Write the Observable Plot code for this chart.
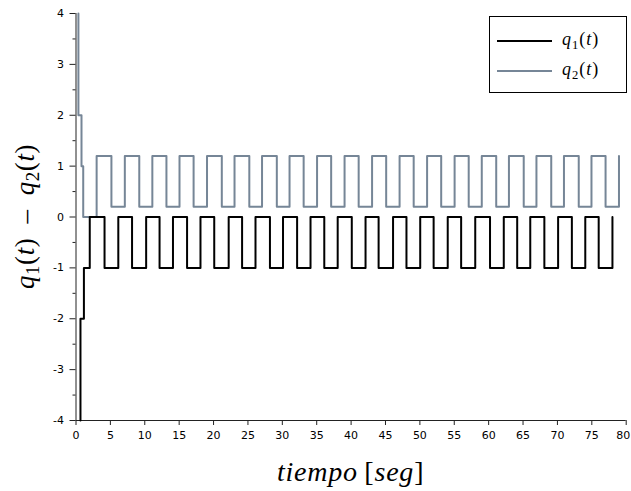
<!DOCTYPE html>
<html>
<head>
<meta charset="utf-8">
<script src="https://cdn.jsdelivr.net/npm/d3@7"></script>
<script src="https://cdn.jsdelivr.net/npm/@observablehq/plot@0.6"></script>
<style>
  body { margin: 0; background: #fff; }
</style>
</head>
<body>
<div id="chart"></div>
<script>
// q1(t): step signal, times at which the value changes and the new value
const q1Time = [0.65, 0.65, 1.15, 2.0,
  4.15, 6.15, 8.15, 10.2, 12.15, 14.1, 16.15, 18.1, 20.1, 22.2, 24.15, 26.1,
  28.2, 30.1, 32.15, 34.1, 36.1, 38.05, 40.1, 42.1, 44.0, 46.1, 48.05, 50.05,
  52.0, 54.05, 56.0, 58.05, 60.2, 62.2, 64.15, 66.05, 68.1, 70.1, 72.1, 74.05,
  76.0, 78.0];
const q1Value = [-4, -2, -1, 0,
  -1, 0, -1, 0, -1, 0, -1, 0, -1, 0, -1, 0,
  -1, 0, -1, 0, -1, 0, -1, 0, -1, 0, -1, 0,
  -1, 0, -1, 0, -1, 0, -1, 0, -1, 0, -1, 0,
  -1, 0];

// q2(t): step signal, times at which the value changes and the new value
const q2Time = [0.35, 0.35, 0.8, 1.05,
  3.0, 5.15, 7.1, 9.2, 11.1, 13.15, 15.05, 17.1, 19.05, 21.2, 23.05, 25.2,
  27.05, 29.2, 31.05, 33.1, 35.05, 37.1, 39.05, 41.1, 43.05, 45.1, 47.05, 49.1,
  51.05, 53.1, 55.05, 57.1, 59.0, 61.1, 62.95, 65.1, 66.95, 69.1, 70.95, 73.1,
  74.95, 77.0, 78.95];
const q2Value = [4, 2, 1, 0,
  1.2, 0.2, 1.2, 0.2, 1.2, 0.2, 1.2, 0.2, 1.2, 0.2, 1.2, 0.2,
  1.2, 0.2, 1.2, 0.2, 1.2, 0.2, 1.2, 0.2, 1.2, 0.2, 1.2, 0.2,
  1.2, 0.2, 1.2, 0.2, 1.2, 0.2, 1.2, 0.2, 1.2, 0.2, 1.2, 0.2,
  1.2, 0.2, 1.2];

const xTicks = [0, 5, 10, 15, 20, 25, 30, 35, 40, 45, 50, 55, 60, 65, 70, 75, 80];
const yTicks = [-4, -3, -2, -1, 0, 1, 2, 3, 4];
const yMinorTicks = [-3.5, -2.5, -1.5, -0.5, 0.5, 1.5, 2.5, 3.5];

const seriesNames = ["q1", "q2"];
const seriesColors = ["#000000", "#768697"];

const q1 = q1Time.map((t, i) => ({t, v: q1Value[i]}));
const q2 = q2Time.map((t, i) => ({t, v: q2Value[i]}));

const W = 631, H = 491;
const margin = {top: 13, right: 5.3, bottom: 71, left: 75.5};

// last x label sits at the right edge; nudge it inward so it stays whole
const xLast = xTicks[xTicks.length - 1];

const chart = Plot.plot({
  width: W,
  height: H,
  marginTop: margin.top,
  marginRight: margin.right,
  marginBottom: margin.bottom,
  marginLeft: margin.left,
  style: {fontFamily: "DejaVu Sans", fontSize: "11px", color: "#000", background: "#fff", overflow: "visible"},
  x: {domain: [0, 80]},
  y: {domain: [-4, 4]},
  marks: [
    Plot.axisX({ticks: xTicks, tickSize: 5, text: null, label: null, stroke: "#222"}),
    Plot.axisX({ticks: xTicks.filter(d => d !== xLast), tickSize: 5, tickPadding: 6, tickFormat: d => String(d), label: null, stroke: "none"}),
    Plot.axisX({ticks: [xLast], tickSize: 5, tickPadding: 6, dx: -3, tickFormat: d => String(d), label: null, stroke: "none"}),
    Plot.axisY({ticks: yTicks, tickSize: 6, tickPadding: 6, tickFormat: d => String(d), label: null, stroke: "#222"}),
    Plot.axisY({ticks: yMinorTicks, tickSize: 3, text: null, label: null, stroke: "#222"}),
    Plot.ruleX([0], {stroke: "#222", strokeWidth: 1}),
    Plot.ruleY([-4], {stroke: "#222", strokeWidth: 1}),
    Plot.line(q2, {x: "t", y: "v", curve: "step-after", stroke: seriesColors[1], strokeWidth: 2}),
    Plot.line(q1, {x: "t", y: "v", curve: "step-after", stroke: seriesColors[0], strokeWidth: 2})
  ]
});

document.getElementById("chart").appendChild(chart);

const svg = d3.select(chart);
const serif = "'Liberation Serif', 'DejaVu Serif', serif";

// math-style label: italic symbol with subscript, followed by (t)
function mathTerm(text, sym, sub, size) {
  text.append("tspan").attr("font-style", "italic").text(sym);
  text.append("tspan").attr("font-size", size * 0.7).attr("dy", size * 0.2).text(sub);
  text.append("tspan").attr("dy", -size * 0.2).text("(");
  text.append("tspan").attr("font-style", "italic").text("t");
  text.append("tspan").text(")");
}

// y axis title
const yl = svg.append("text")
  .attr("transform", `translate(34,${(margin.top + H - margin.bottom) / 2}) rotate(-90)`)
  .attr("text-anchor", "middle")
  .attr("font-family", serif)
  .attr("font-size", 27)
  .attr("letter-spacing", 0.6)
  .attr("fill", "#000");
mathTerm(yl, "q", "1", 27);
yl.append("tspan").text("\u2002\u2013\u2002");
mathTerm(yl, "q", "2", 27);

// x axis title
const xl = svg.append("text")
  .attr("x", (margin.left + W - margin.right) / 2)
  .attr("y", 481)
  .attr("text-anchor", "middle")
  .attr("font-family", serif)
  .attr("font-size", 28)
  .attr("letter-spacing", 0.8)
  .attr("fill", "#000");
xl.append("tspan").attr("font-style", "italic").text("tiempo");
xl.append("tspan").text("\u2009[");
xl.append("tspan").attr("font-style", "italic").text("seg");
xl.append("tspan").text("]");

// legend
const lg = svg.append("g").attr("text-anchor", "start");
lg.append("rect")
  .attr("x", 489.5).attr("y", 16.5).attr("width", 137).attr("height", 76)
  .attr("fill", "#fff").attr("stroke", "#000").attr("stroke-width", 1);
seriesNames.forEach((name, i) => {
  const y = 41 + i * 30;
  lg.append("line")
    .attr("x1", 497).attr("x2", 552).attr("y1", y).attr("y2", y)
    .attr("stroke", seriesColors[i]).attr("stroke-width", 2);
  const t = lg.append("text")
    .attr("x", 562).attr("y", y + 4)
    .attr("text-anchor", "start")
    .attr("font-family", serif).attr("font-size", 18)
    .attr("letter-spacing", 1)
    .attr("fill", "#000");
  mathTerm(t, "q", name.slice(1), 18);
});
</script>
</body>
</html>
